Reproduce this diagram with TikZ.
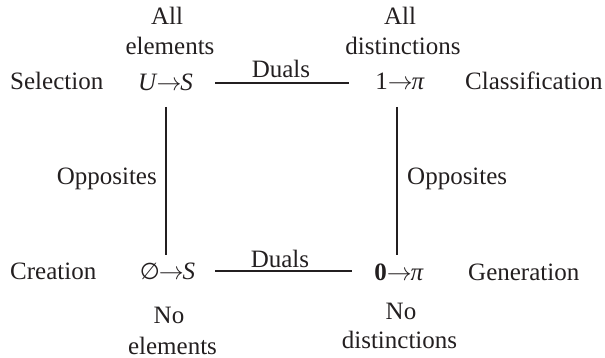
\documentclass[tikz,border=0pt]{standalone}
\usepackage{fontspec}
\setmainfont{Liberation Serif}
\newfontfamily\symfont{DejaVu Sans}
\definecolor{ink}{RGB}{35,31,32}
\newcommand{\arr}{\kern-1pt$\rightarrow$\kern-1pt}
\begin{document}
\begin{tikzpicture}[x=1pt,y=-1pt,
  lbl/.style={font=\fontsize{25}{30}\selectfont, inner sep=0pt, text=ink, anchor=base},
  edge/.style={draw=ink, line width=2.8pt}]
\useasboundingbox (0,0) rectangle (605,358);
% top-left
\node[lbl] (tlA) at (167,25) {All};
\node[lbl] (tlB) at (170,55) {elements};
\node[lbl] (us) at (165.5,91) {\textit{U}\arr\textit{S}};
\node[lbl, anchor=base west] (sel) at (10,90) {Selection};
% top-right
\node[lbl] (trA) at (400,25) {All};
\node[lbl] (trB) at (403,55) {distinctions};
\node[lbl] (one) at (400,90) {1\kern1pt\arr\textit{π}};
\node[lbl, anchor=base west] (cls) at (465,90) {Classification};
% bottom-left
\node[lbl, anchor=base west] (cre) at (10,279) {Creation};
\node[lbl] (es) at (167.5,279) {{\symfont\fontsize{23}{26}\selectfont\textit{∅}}\arr\textit{S}};
\node[lbl] (blA) at (169,323) {No};
\node[lbl] (blB) at (172.5,354) {elements};
% bottom-right
\node[lbl] (zero) at (399,280) {\textbf{0}\kern1pt\arr\textit{π}};
\node[lbl, anchor=base west] (gen) at (468,280) {Generation};
\node[lbl] (brA) at (401,319) {No};
\node[lbl] (brB) at (399.5,348) {distinctions};
% edge labels
\node[lbl] (dt) at (281,78) {Duals};
\node[lbl] (db) at (280,267) {Duals};
\node[lbl, anchor=base east] (ol) at (157,185) {Opposites};
\node[lbl, anchor=base west] (or) at (407,185) {Opposites};
% connector ends
\coordinate (t1) at (215,83);
\coordinate (t2) at (349,83);
\coordinate (b1) at (215,271);
\coordinate (b2) at (352,271);
\coordinate (l1) at (166,107);
\coordinate (l2) at (166,255);
\coordinate (r1) at (397,107);
\coordinate (r2) at (397,255);
\draw[edge] (t1) -- (t2);
\draw[edge] (b1) -- (b2);
\draw[edge] (l1) -- (l2);
\draw[edge] (r1) -- (r2);
\end{tikzpicture}
\end{document}
